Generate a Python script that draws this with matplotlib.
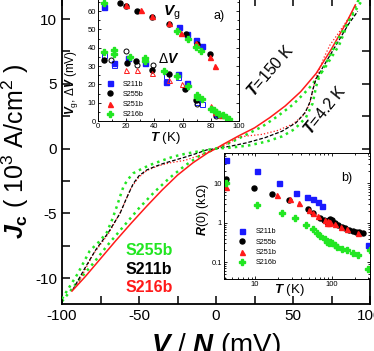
import numpy as np
import matplotlib.pyplot as plt
from matplotlib.ticker import MultipleLocator, FixedLocator, FixedFormatter, LogLocator, NullFormatter

plt.rcParams['font.family'] = ['Liberation Sans', 'DejaVu Sans']
plt.rcParams['mathtext.fontset'] = 'custom'
plt.rcParams['mathtext.rm'] = 'Liberation Sans'
plt.rcParams['mathtext.it'] = 'Liberation Sans:italic:bold'
plt.rcParams['mathtext.bf'] = 'Liberation Sans:bold'
plt.rcParams['axes.unicode_minus'] = False

RED = '#ff1a1a'
GRN = '#22e622'
BLU = '#1a1aff'
BLK = 'black'

# I-V curves, T = 150 K
v_red_150 = [-93.5, -85, -75, -65, -55, -45, -35, -25, -15, -5, 0, 5, 15, 25, 35, 45, 55, 65, 75, 85, 90.5]
j_red_150 = [-11.0, -9.9, -8.5, -7.1, -5.75, -4.45, -3.2, -2.05, -1.1, -0.3, 0, 0.35, 1.0, 1.6, 2.4, 3.3, 4.4, 5.8, 7.7, 9.8, 11.1]
v_grn_150 = [-100, -90, -80, -70, -60, -50, -40, -30, -20, -10, 0, 10, 20, 30, 40, 50, 60, 70, 80, 86, 93]
j_grn_150 = [-11.8, -10.3, -8.9, -7.4, -6.0, -4.6, -3.35, -2.25, -1.3, -0.5, 0, 0.5, 1.1, 1.7, 2.5, 3.4, 4.6, 6.1, 8.0, 9.8, 11.6]

# I-V curves, T = 4.2 K
v_grn_42 = [-100, -90, -82, -76, -71, -67.5, -64.5, -62, -60, -57, -53.7, -48, -43, -35, -27.7, -20, -12.5, -5, 0,
            10, 21.5, 33, 43, 51, 58.4, 62.8, 65, 67, 73.6, 80, 86.5, 95.6]
j_grn_42 = [-11.6, -9.7, -7.9, -7.2, -6.5, -5.5, -4.5, -3.6, -2.9, -2.35, -1.9, -1.55, -1.27, -0.92, -0.62, -0.4, -0.24, -0.08, 0,
            0.08, 0.25, 0.55, 0.95, 1.5, 2.4, 3.5, 4.8, 5.55, 7.1, 8.6, 9.9, 11.6]
v_blk_42 = [-93, -85, -78, -70, -62.3, -58, -53.7, -50, -45, -40, -34, -27, -19, -12, -6, 0,
            10, 20, 32, 43, 52, 58, 61, 63, 65, 70, 78, 86, 92]
j_blk_42 = [-10.9, -9.2, -7.8, -6.5, -5.0, -3.8, -2.7, -2.1, -1.65, -1.4, -1.14, -0.9, -0.62, -0.35, -0.1, 0,
            0.2, 0.45, 0.85, 1.35, 2.0, 2.8, 3.6, 4.6, 5.4, 6.4, 8.0, 9.6, 10.6]
v_red_42 = [-90, -80, -70, -62, -55, -50, -45, -38, -30, -25, -20, -15, -10, -5, 0,
            8, 15, 22, 30, 40, 50, 57, 61, 63, 65, 70, 74, 80, 88]
j_red_42 = [-10.5, -8.2, -6.6, -4.9, -3.0, -2.2, -1.7, -1.35, -1.1, -1.0, -0.9, -0.7, -0.5, -0.25, 0,
            0.4, 0.9, 1.0, 1.1, 1.4, 1.9, 2.6, 3.5, 4.6, 5.5, 7.0, 8.0, 9.0, 10.4]

# inset a: gap voltage Vg
t_vg_211 = [4.3, 57.3, 63.2, 69.5, 73.8]
vg_211 = [62.3, 51.4, 47.3, 44.0, 41.0]
t_vg_255 = [15.3, 20, 27.6, 38.2, 50, 62.5, 70.2, 79.4]
vg_255 = [64.4, 62.8, 60.2, 57.0, 53.0, 47.3, 41.8, 36.4]
t_vg_251 = [20, 30.6, 38.2, 50.2, 59, 69.5, 79.4, 83.2]
vg_251 = [63.2, 60.5, 57.2, 53.2, 48.2, 42.8, 35.0, 30.1]
t_vg_216 = [4.3, 56.3, 64, 69.5, 73.3]
vg_216 = [64.4, 49.3, 44.8, 40.4, 38.0]

# inset a: delta V (filled / open symbols)
t_dv_211 = [11, 21.2, 33, 48.3, 57, 63.2, 70, 84]
dv_211 = [31.8, 34.3, 31.8, 21.3, 25.5, 20.8, 12.0, 4.0]
t_dv_211o = [4.3, 11, 48.3, 57, 70, 73.5]
dv_211o = [35.9, 30.4, 24.5, 24.0, 10.2, 9.3]
t_dv_255 = [4.3, 20.5, 27, 38.3, 50, 61.8, 69.5, 85]
dv_255 = [33.2, 31.6, 32.5, 28.0, 25.8, 17.4, 11.3, 4.0]
t_dv_255o = [9.5, 20, 28, 39.3, 70, 84]
dv_255o = [33.2, 38.3, 30.5, 30.5, 9.3, 3.0]
t_dv_251o = [20, 28, 38.2, 50, 59.4, 80.2]
dv_251o = [27.6, 27.6, 26.2, 22.6, 20.1, 8.0]
t_dv_251 = [83, 87]
dv_251 = [5.0, 3.5]
t_dv_216 = [4.3, 11, 11, 22.4, 33, 33, 46.6, 56, 64, 70, 70, 73.5, 80, 82, 83.7, 86, 88.4, 90.8, 93]
dv_216 = [37.7, 38.6, 36.7, 35.0, 34.3, 33.0, 27.3, 24.5, 19.3, 14.0, 13.0, 12.0, 6.8, 5.8, 5.0, 3.8, 3.2, 2.3, 1.3]

# inset b: zero bias resistance
t_r_211 = [4.15, 10.7, 20.5, 33.9, 48, 57.5, 65.6, 75, 300]
r_211 = [37.8, 20.3, 9.9, 5.5, 4.55, 3.9, 3.4, 2.6, 0.28]
t_r_255 = [4.15, 9.7, 16.5, 28, 49.5, 57.4, 70.4, 80, 88, 92, 95, 100, 110, 120, 135, 150, 170, 190, 210, 230, 258]
r_255 = [13, 7.4, 5.2, 3.7, 2.17, 1.8, 1.34, 1.15, 1.05, 1.2, 1.25, 1.15, 1.0, 0.9, 0.8, 0.74, 0.67, 0.62, 0.6, 0.58, 0.56]
t_r_251 = [4.15, 19.5, 28.5, 37.5, 51, 57.7, 67, 81.7, 88, 90, 93, 96, 110, 132, 160, 222]
r_251 = [8.2, 5.0, 3.9, 3.1, 2.05, 1.8, 1.45, 1.16, 0.98, 1.1, 1.0, 1.05, 0.95, 0.8, 0.68, 0.56]
t_r_216 = [4.15, 10.7, 22.7, 33.2, 46.4, 56.5, 63.7, 71, 81, 88, 92, 96, 100, 110, 118, 135, 160, 190, 220, 300, 316]
r_216 = [10, 2.75, 1.8, 1.34, 0.87, 0.68, 0.56, 0.47, 0.38, 0.33, 0.3, 0.32, 0.31, 0.27, 0.24, 0.22, 0.2, 0.175, 0.155, 0.068, 0.2]

fig = plt.figure(figsize=(3.74, 3.51), dpi=100)

# main panel
ax = fig.add_axes([62/374, 47/351, 308/374, 306/351])
ax.plot(v_grn_150, j_grn_150, color=GRN, ls=':', lw=1.8, zorder=2)
ax.plot(v_red_150, j_red_150, color=RED, ls='-', lw=1.1, zorder=3)
ax.plot(v_red_42, j_red_42, color=RED, ls=':', lw=0.9, zorder=2)
ax.plot(v_blk_42, j_blk_42, color=BLK, ls=(0, (3, 1.5)), lw=0.9, zorder=2)
ax.plot(v_grn_42, j_grn_42, color=GRN, ls=':', lw=1.8, zorder=3)
ax.set_xlim(-100, 100)
ax.set_ylim(-12, 11.63)
ax.xaxis.set_major_locator(MultipleLocator(50))
ax.xaxis.set_minor_locator(MultipleLocator(25))
ax.yaxis.set_major_locator(MultipleLocator(5))
ax.yaxis.set_minor_locator(MultipleLocator(2.5))
ax.tick_params(which='both', direction='in', top=True, right=True, labelsize=11, width=1.1)
ax.tick_params(which='major', length=6)
ax.tick_params(which='minor', length=6)
for s in ax.spines.values():
    s.set_linewidth(1.3)
ax.set_xlabel(r'$\mathit{V}$ / $\mathit{N}$ (mV)', fontsize=20)
ax.set_ylabel(r'$\mathit{J}_{\mathbf{c}}$ ( 10$^3$ A/cm$^2$ )', fontsize=18)
ax.xaxis.set_label_coords(0.5, -0.088)
ax.yaxis.set_label_coords(-0.1, 0.5)

ax.text(35, 6.0, r'$\mathit{T}$=150 K', fontsize=11.5, rotation=49, ha='center', va='center')
ax.text(70.6, 3.0, r'$\mathit{T}$=4.2 K', fontsize=11.5, rotation=51, ha='center', va='center')
ax.text(-58.5, -7.9, 'S255b', color=GRN, fontsize=11.5, fontweight='bold', va='center')
ax.text(-58.5, -9.35, 'S211b', color=BLK, fontsize=11.5, fontweight='bold', va='center')
ax.text(-58.5, -10.75, 'S216b', color=RED, fontsize=11.5, fontweight='bold', va='center')

# inset a
axa = fig.add_axes([98/374, 230/351, 141/374, 125/351])
ms = 3.6
axa.plot(t_vg_211, vg_211, 's', color=BLU, ms=ms, label='S211b')
axa.plot(t_vg_255, vg_255, 'o', color=BLK, ms=ms, label='S255b')
axa.plot(t_vg_251, vg_251, '^', color=RED, ms=ms, label='S251b')
axa.plot(t_vg_216, vg_216, 'P', color=GRN, ms=ms + 0.4, label='S216b')
axa.plot(t_dv_211, dv_211, 's', color=BLU, ms=ms)
axa.plot(t_dv_211o, dv_211o, 's', mfc='none', mec=BLU, mew=0.7, ms=ms)
axa.plot(t_dv_255, dv_255, 'o', color=BLK, ms=ms)
axa.plot(t_dv_255o, dv_255o, 'o', mfc='none', mec=BLK, mew=0.7, ms=ms)
axa.plot(t_dv_251o, dv_251o, '^', mfc='none', mec=RED, mew=0.7, ms=ms)
axa.plot(t_dv_251, dv_251, '^', color=RED, ms=ms)
axa.plot(t_dv_216, dv_216, 'P', color=GRN, ms=ms + 0.4)
axa.set_xlim(0, 100)
axa.set_ylim(0, 68.2)
axa.xaxis.set_major_locator(MultipleLocator(20))
axa.xaxis.set_minor_locator(MultipleLocator(10))
axa.yaxis.set_major_locator(MultipleLocator(10))
axa.yaxis.set_minor_locator(MultipleLocator(5))
axa.tick_params(which='both', direction='in', top=True, right=True, labelsize=5.5, width=0.6, pad=1.5)
axa.tick_params(which='major', length=2.5)
axa.tick_params(which='minor', length=1.5)
for s in axa.spines.values():
    s.set_linewidth(0.7)
axa.set_xlabel(r'$\mathit{T}$ (K)', fontsize=9.5)
axa.set_ylabel(r'$\mathit{V}_{\mathrm{g}}$, Δ$\mathit{V}$ (mV)', fontsize=8.5)
axa.xaxis.set_label_coords(0.475, -0.07)
axa.yaxis.set_label_coords(-0.13, 0.31)
axa.text(52, 59, r'$\mathit{V}_{\mathrm{g}}$', fontsize=11, ha='center', va='center')
axa.text(50, 34, r'Δ$\mathit{V}$', fontsize=10, ha='center', va='center')
axa.text(86, 57.3, 'a)', fontsize=9, ha='center', va='center')
axa.legend(loc='lower left', bbox_to_anchor=(0.06, 0.02), frameon=False, fontsize=5.2,
           handlelength=1, handletextpad=1.3, labelspacing=0.45, borderpad=0, borderaxespad=0)

# inset b
axb = fig.add_axes([224/374, 72/351, 146/374, 126/351])
axb.plot(t_r_211, r_211, 's', color=BLU, ms=ms, label='S211b')
axb.plot(t_r_255, r_255, 'o', color=BLK, ms=ms, label='S255b')
axb.plot(t_r_251, r_251, '^', color=RED, ms=ms, label='S251b')
axb.plot(t_r_216, r_216, 'P', color=GRN, ms=ms + 0.4, label='S216b')
axb.set_xscale('log')
axb.set_yscale('log')
axb.set_xlim(3.94, 316)
axb.set_ylim(0.038, 58)
axb.xaxis.set_major_locator(FixedLocator([10, 100]))
axb.xaxis.set_major_formatter(FixedFormatter(['10', '100']))
axb.xaxis.set_minor_locator(LogLocator(base=10, subs=np.arange(2, 10)))
axb.xaxis.set_minor_formatter(NullFormatter())
axb.yaxis.set_major_locator(FixedLocator([0.1, 1, 10]))
axb.yaxis.set_major_formatter(FixedFormatter(['0.1', '1', '10']))
axb.yaxis.set_minor_locator(LogLocator(base=10, subs=np.arange(2, 10)))
axb.yaxis.set_minor_formatter(NullFormatter())
axb.tick_params(which='both', direction='in', top=True, right=True, labelsize=5.5, width=0.6, pad=1.5)
axb.tick_params(which='major', length=2.5)
axb.tick_params(which='minor', length=1.5)
for s in axb.spines.values():
    s.set_linewidth(0.7)
axb.set_xlabel(r'$\mathit{T}$ (K)', fontsize=9.5)
axb.set_ylabel(r'$\mathit{R}$(0) (kΩ)', fontsize=9)
axb.xaxis.set_label_coords(0.45, -0.02)
axb.yaxis.set_label_coords(-0.09, 0.55)
axb.text(157, 13.2, 'b)', fontsize=9, ha='center', va='center')
axb.legend(loc='lower left', bbox_to_anchor=(0.1, 0.1), frameon=False, fontsize=5.2,
           handlelength=1, handletextpad=1.4, labelspacing=0.45, borderpad=0, borderaxespad=0)

fig.savefig('out.png', dpi=100)
